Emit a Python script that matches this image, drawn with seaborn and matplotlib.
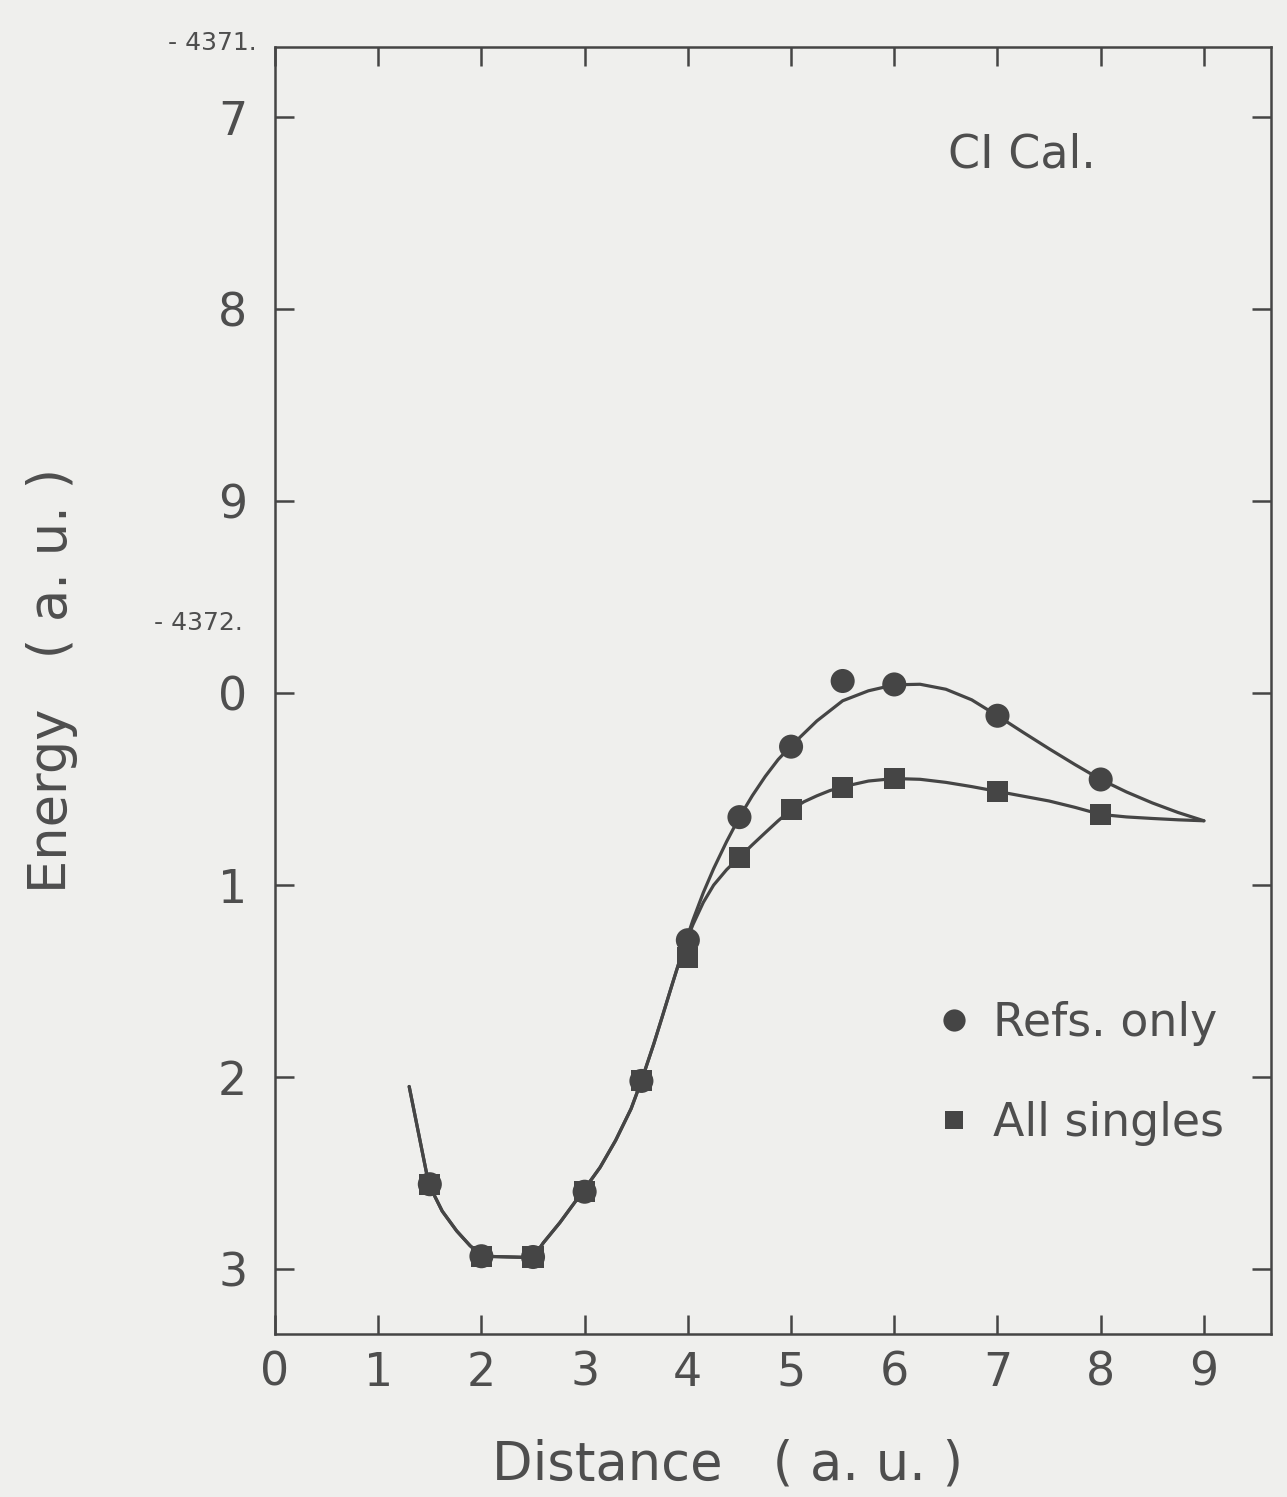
import matplotlib
matplotlib.use("Agg")
import matplotlib.pyplot as plt
from matplotlib.lines import Line2D
import seaborn as sns
import pandas as pd

# ---------------- data (energies in hartree, distance in a.u.) ----------------
marker_x = [1.5, 2.0, 2.5, 3.0, 3.55, 4.0, 4.5, 5.0, 5.5, 6.0, 7.0, 8.0]
refs_E = [-4372.2558, -4372.2933, -4372.2937, -4372.2597, -4372.2020, -4372.1287,
          -4372.0646, -4372.0279, -4371.9937, -4371.9955, -4372.0118, -4372.0450]
singles_E = [-4372.2558, -4372.2933, -4372.2937, -4372.2597, -4372.2020, -4372.1375,
             -4372.0855, -4372.0605, -4372.0492, -4372.0445, -4372.0512, -4372.0632]

# smooth drawn curves
shared_x = [1.30, 1.49, 1.62, 1.76, 1.89, 2.01, 2.50, 2.60, 2.76, 2.98, 3.15, 3.30,
            3.45, 3.55, 3.67, 3.75, 3.85, 3.96]
shared_E = [-4372.2049, -4372.2558, -4372.2698, -4372.2801, -4372.2878, -4372.2933,
            -4372.2940, -4372.2863, -4372.2758, -4372.2597, -4372.2470, -4372.2330,
            -4372.2165, -4372.2020, -4372.1827, -4372.1689, -4372.1514, -4372.1325]
refs_curve_x = [4.05, 4.15, 4.25, 4.375, 4.5, 4.625, 4.75, 4.875, 5.0, 5.25, 5.5, 5.75,
                6.0, 6.25, 6.5, 6.75, 7.0, 7.25, 7.5, 7.75, 8.0, 8.25, 8.5, 8.75, 9.0]
refs_curve_E = [-4372.1181, -4372.1039, -4372.0914, -4372.0774, -4372.0646, -4372.0534,
                -4372.0434, -4372.0346, -4372.0275, -4372.0145, -4372.0040, -4371.9988,
                -4371.9957, -4371.9954, -4371.9980, -4372.0035, -4372.0118, -4372.0205,
                -4372.0290, -4372.0372, -4372.0450, -4372.0515, -4372.0572, -4372.0622,
                -4372.0665]
singles_curve_x = [4.05, 4.15, 4.25, 4.375, 4.5, 4.625, 4.75, 4.875, 5.0, 5.125, 5.25,
                   5.375, 5.5, 5.75, 6.0, 6.25, 6.5, 6.75, 7.0, 7.25, 7.5, 7.75, 8.0,
                   8.25, 8.5, 8.75, 9.0]
singles_curve_E = [-4372.1205, -4372.1090, -4372.1000, -4372.0920, -4372.0855, -4372.0790,
                   -4372.0727, -4372.0665, -4372.0608, -4372.0566, -4372.0535, -4372.0508,
                   -4372.0488, -4372.0458, -4372.0445, -4372.0449, -4372.0465, -4372.0487,
                   -4372.0512, -4372.0537, -4372.0562, -4372.0595, -4372.0632, -4372.0645,
                   -4372.0653, -4372.0660, -4372.0665]

x_ticks = [0, 1, 2, 3, 4, 5, 6, 7, 8, 9]
x_ticklabels = ["0", "1", "2", "3", "4", "5", "6", "7", "8", "9"]
y_ticks = [-4371.7, -4371.8, -4371.9, -4372.0, -4372.1, -4372.2, -4372.3]
y_ticklabels = ["7", "8", "9", "0", "1", "2", "3"]
series_names = ["Refs. only", "All singles"]

# ---------------- style ----------------
sns.set_theme(style="ticks")
plt.rcParams["font.family"] = ["DejaVu Sans"]
BG = "#efefed"
INK = "#454545"
TXT = "#4e4e4e"

W, H = 1287, 1497
fig = plt.figure(figsize=(W / 100, H / 100), dpi=100, facecolor=BG)
ax = fig.add_axes([275 / W, (H - 1334) / H, 996 / W, 1287 / H], facecolor=BG)

df_refs_curve = pd.DataFrame({"x": shared_x + refs_curve_x, "E": shared_E + refs_curve_E})
df_sing_curve = pd.DataFrame({"x": shared_x + singles_curve_x, "E": shared_E + singles_curve_E})
sns.lineplot(data=df_refs_curve, x="x", y="E", ax=ax, color=INK, lw=2.3, sort=False)
sns.lineplot(data=df_sing_curve, x="x", y="E", ax=ax, color=INK, lw=2.3, sort=False)

df_refs = pd.DataFrame({"x": marker_x, "E": refs_E})
df_sing = pd.DataFrame({"x": marker_x, "E": singles_E})
sns.scatterplot(data=df_refs, x="x", y="E", ax=ax, marker="o", s=300, color=INK,
                edgecolor="none", zorder=5)
sns.scatterplot(data=df_sing, x="x", y="E", ax=ax, marker="s", s=230, color=INK,
                edgecolor="none", zorder=5)

ax.set_xlim(0, 9.65)
ax.set_ylim(-4372.3338, -4371.6635)
ax.set_xticks(x_ticks)
ax.set_xticklabels(x_ticklabels)
ax.set_yticks(y_ticks)
ax.set_yticklabels(y_ticklabels)
ax.set_xlabel("")
ax.set_ylabel("")
ax.tick_params(direction="in", length=14, width=1.8, color=INK, top=True, right=True,
               labelsize=33, labelcolor=TXT)
ax.tick_params(axis="x", pad=12)
ax.tick_params(axis="y", pad=20)
for sp in ax.spines.values():
    sp.set_color(INK)
    sp.set_linewidth(1.8)

handles = [Line2D([], [], ls="", marker="o", markersize=16, color=INK, markeredgewidth=0),
           Line2D([], [], ls="", marker="s", markersize=13, color=INK, markeredgewidth=0)]
leg = ax.legend(handles, series_names, loc="center left",
                bbox_to_anchor=((940 - 275) / 996, 1 - (1073.5 - 47) / 1287),
                frameon=False, fontsize=33, handlelength=0.6, handletextpad=0.55,
                labelspacing=1.2, borderpad=0, borderaxespad=0)
for t in leg.get_texts():
    t.set_color(TXT)

fig.text(1022 / W, 1 - 155 / H, "CI Cal.", ha="center", va="center", fontsize=33, color=TXT)
fig.text(728 / W, 1 - 1465 / H, "Distance   ( a. u. )", ha="center", va="center",
         fontsize=38, color=TXT)
fig.text(52 / W, 1 - 680 / H, "Energy   ( a. u. )", ha="center", va="center",
         fontsize=38, color=TXT, rotation=90)
fig.text(257 / W, 1 - 43 / H, "- 4371.", ha="right", va="center", fontsize=18, color=TXT)
fig.text(243 / W, 1 - 623 / H, "- 4372.", ha="right", va="center", fontsize=18, color=TXT)

fig.savefig("out.png", dpi=100, facecolor=BG)
